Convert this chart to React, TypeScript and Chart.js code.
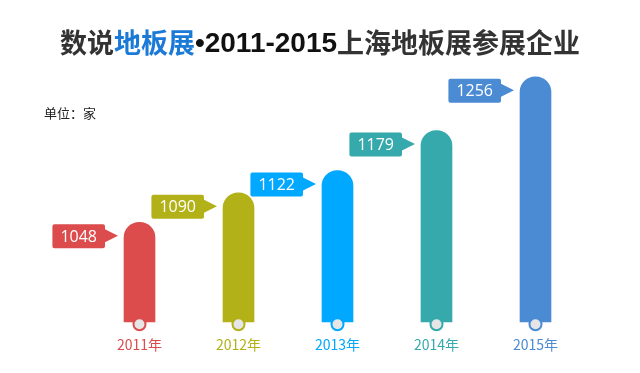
import React, { useEffect, useRef } from "react";
import { Chart, registerables } from "chart.js";

Chart.register(...registerables);

const categories = ["2011年", "2012年", "2013年", "2014年", "2015年"];
const values = [1048, 1090, 1122, 1179, 1256];
const barColors = ["#dc4c4d", "#b2b118", "#00a8ff", "#35a9ac", "#4b8bd4"];
const titleParts = [
  { text: "数说", color: "#333333", latin: false },
  { text: "地板展", color: "#1a7ad6", latin: false },
  { text: "•2011-2015", color: "#111111", latin: true },
  { text: "上海地板展参展企业", color: "#333333", latin: false },
];
const unitLabel = "单位：家";
const yMin = 905;
const yMax = 1280;

const CJK = '"Noto Sans CJK SC", "Noto Sans", sans-serif';

const decorPlugin = {
  id: "decor",
  afterDraw(chart: any) {
    const ctx = chart.ctx as CanvasRenderingContext2D;
    ctx.save();
    // Title
    ctx.textBaseline = "middle";
    ctx.textAlign = "left";
    const fontFor = (p: any) =>
      p.latin ? `bold 28px "Liberation Sans", Arial, sans-serif` : `bold 27px ${CJK}`;
    let total = 0;
    for (const p of titleParts) {
      ctx.font = fontFor(p);
      total += ctx.measureText(p.text).width;
    }
    let x = 320 - total / 2;
    for (const p of titleParts) {
      ctx.font = fontFor(p);
      ctx.fillStyle = p.color;
      ctx.fillText(p.text, x, p.latin ? 44 : 43);
      x += ctx.measureText(p.text).width;
    }
    // Unit
    ctx.font = `13px ${CJK}`;
    ctx.fillStyle = "#222222";
    ctx.fillText(unitLabel, 44, 113);

    const bottom = chart.chartArea.bottom;
    const meta = chart.getDatasetMeta(0);
    meta.data.forEach((bar: any, i: number) => {
      const color = barColors[i];
      const half = bar.width / 2;
      const left = bar.x - half;
      // bottom circle
      ctx.beginPath();
      ctx.arc(bar.x, bottom + 2, 6, 0, Math.PI * 2);
      ctx.closePath();
      ctx.fillStyle = "#e6e6e6";
      ctx.fill();
      ctx.lineWidth = 2;
      ctx.strokeStyle = color;
      ctx.stroke();

      // callout
      const label = String(values[i]);
      ctx.font = `16px "Open Sans", "Noto Sans", sans-serif`;
      const tw = ctx.measureText(label).width;
      const boxW = tw + 16;
      const boxH = 24;
      const boxRight = left - 19;
      const boxLeft = boxRight - boxW;
      const boxTop = bar.y + 2;
      ctx.fillStyle = color;
      ctx.beginPath();
      const r = 2;
      ctx.moveTo(boxLeft + r, boxTop);
      ctx.lineTo(boxRight - r, boxTop);
      ctx.quadraticCurveTo(boxRight, boxTop, boxRight, boxTop + r);
      ctx.lineTo(boxRight, boxTop + 5);
      ctx.lineTo(left - 6, boxTop + 11.5);
      ctx.lineTo(boxRight, boxTop + 18);
      ctx.lineTo(boxRight, boxTop + boxH - r);
      ctx.quadraticCurveTo(boxRight, boxTop + boxH, boxRight - r, boxTop + boxH);
      ctx.lineTo(boxLeft + r, boxTop + boxH);
      ctx.quadraticCurveTo(boxLeft, boxTop + boxH, boxLeft, boxTop + boxH - r);
      ctx.lineTo(boxLeft, boxTop + r);
      ctx.quadraticCurveTo(boxLeft, boxTop, boxLeft + r, boxTop);
      ctx.closePath();
      ctx.fill();
      ctx.fillStyle = "#ffffff";
      ctx.textAlign = "center";
      ctx.textBaseline = "middle";
      ctx.fillText(label, boxLeft + boxW / 2, boxTop + boxH / 2 + 1);
      ctx.textAlign = "left";
    });
    ctx.restore();
  },
};

export default function App() {
  const ref = useRef<HTMLCanvasElement>(null);
  useEffect(() => {
    if (!ref.current) return;
    const chart = new Chart(ref.current, {
      type: "bar",
      data: {
        labels: categories,
        datasets: [
          {
            data: values,
            backgroundColor: barColors,
            barThickness: 31,
            borderRadius: { topLeft: 16, topRight: 16, bottomLeft: 0, bottomRight: 0 },
            borderSkipped: "bottom",
          },
        ],
      },
      options: {
        responsive: false,
        animation: false,
        layout: { padding: { left: 90, right: 55, top: 60, bottom: 6 } },
        plugins: { legend: { display: false }, tooltip: { enabled: false }, title: { display: false } },
        scales: {
          x: {
            grid: { display: false, drawTicks: false },
            border: { display: false },
            ticks: {
              padding: 14,
              font: { size: 14, family: CJK },
              color: (c: any) => barColors[c.index] || "#333",
            },
          },
          y: { display: false, min: yMin, max: yMax },
        },
      },
      plugins: [decorPlugin],
    });
    return () => chart.destroy();
  }, []);
  return (
    <div style={{ position: "fixed", left: 0, top: 0, width: 640, height: 373, background: "#fff" }}>
      <canvas ref={ref} width={640} height={373} style={{ width: 640, height: 373, display: "block" }} />
    </div>
  );
}
